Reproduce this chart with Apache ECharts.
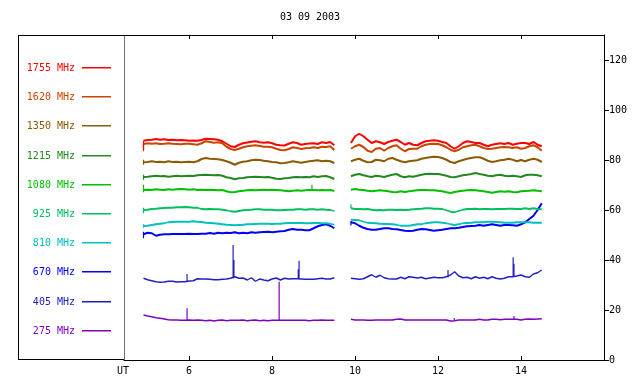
<!DOCTYPE html>
<html><head><meta charset="utf-8">
<script src="https://cdn.jsdelivr.net/npm/echarts@6/dist/echarts.min.js"></script>
<style>html,body{margin:0;padding:0;background:#fff}#c{width:640px;height:384px}</style>
</head><body><div id="c"></div>
<script>
const title = '03 09 2003';
const xTicks = [6, 8, 10, 12, 14];
const yTicks = [0, 20, 40, 60, 80, 100, 120];
const T1 = [4.9,5.0,5.1,5.2,5.3,5.4,5.5,5.6,5.7,5.8,5.9,6.0,6.1,6.2,6.3,6.4,6.5,6.6,6.7,6.8,6.9,7.0,7.1,7.2,7.3,7.4,7.5,7.6,7.7,7.8,7.9,8.0,8.1,8.2,8.3,8.4,8.5,8.6,8.7,8.8,8.9,9.0,9.1,9.2,9.3,9.4,9.5];
const T2 = [9.9,10.0,10.1,10.2,10.3,10.4,10.5,10.6,10.7,10.8,10.9,11.0,11.1,11.2,11.3,11.4,11.5,11.6,11.7,11.8,11.9,12.0,12.1,12.2,12.3,12.4,12.5,12.6,12.7,12.8,12.9,13.0,13.1,13.2,13.3,13.4,13.5,13.6,13.7,13.8,13.9,14.0,14.1,14.2,14.3,14.4,14.5];
const gapTime = 9.7;

const labels = ['1755 MHz','1620 MHz','1350 MHz','1215 MHz','1080 MHz','925 MHz','810 MHz','670 MHz','405 MHz','275 MHz'];
const colors = ['#ff0000','#c84600','#8c5a00','#228822','#00c000','#00c060','#00c0c0','#0000ff','#2020c0','#8000c0'];

const f1755a = [87.7,88.0,88.1,88.4,88.1,88.3,88.0,88.1,87.9,88.0,87.9,87.7,87.8,87.7,88.0,88.5,88.4,88.3,88.1,87.5,86.5,85.5,85.2,86.1,86.7,87.0,87.3,87.5,87.1,86.9,87.1,86.7,86.1,85.9,85.8,86.5,87.1,86.8,86.1,86.4,86.6,86.7,86.4,87.1,86.8,87.2,85.9];
const f1755b = [86.8,89.5,90.5,89.5,88.1,86.8,87.5,87.1,86.4,87.2,87.7,88.1,87.2,86.1,86.8,86.1,85.9,86.8,87.5,87.7,87.9,87.7,87.2,86.8,85.5,84.5,85.5,86.8,87.5,87.2,86.8,86.8,86.1,85.5,86.1,86.4,86.7,86.4,86.8,86.1,86.5,86.8,86.8,86.4,87.2,86.1,85.5];
const f1620a = [86.4,86.7,86.5,86.7,86.4,86.5,86.7,86.5,86.4,86.3,86.5,86.5,86.3,86.1,86.7,87.5,87.2,86.9,87.1,86.7,85.3,84.4,84.0,84.5,85.1,85.5,85.7,85.9,85.6,85.3,85.3,85.1,84.5,84.0,83.9,84.4,85.1,84.8,84.4,84.7,84.8,85.1,84.8,85.3,85.2,85.5,84.0];
const f1620b = [84.5,85.5,86.1,85.2,83.7,83.2,84.5,84.8,83.7,84.8,85.5,85.9,84.5,83.5,84.4,84.5,84.5,85.5,86.1,86.4,86.5,86.4,85.9,85.1,84.1,83.5,84.1,85.1,85.5,85.9,86.1,85.5,84.8,84.4,84.5,84.8,85.1,85.2,85.1,84.8,85.1,84.5,84.8,85.5,85.9,85.1,83.7];
const f1350a = [79.1,79.2,79.5,79.2,79.3,79.1,79.5,79.2,79.3,79.1,79.2,79.3,79.1,79.5,80.4,80.8,80.5,80.4,80.3,80.0,79.5,78.9,78.1,78.9,79.3,79.5,79.9,80.1,80.0,79.7,79.5,79.2,79.1,78.7,78.8,79.1,79.5,79.2,78.9,79.2,79.5,79.7,79.9,79.5,79.7,79.5,78.8];
const f1350b = [79.5,80.1,80.5,79.7,79.1,79.2,80.1,79.9,79.5,80.5,80.8,80.1,79.5,79.1,79.5,79.7,79.9,80.5,80.8,81.1,81.3,81.2,80.8,80.1,79.2,78.8,79.5,80.0,80.5,80.8,81.1,81.1,80.5,79.7,79.2,79.5,79.9,80.1,80.5,80.1,79.5,80.0,79.5,80.1,80.5,80.1,79.2];
const f1215a = [73.2,73.3,73.5,73.7,73.5,73.6,73.3,73.5,73.7,73.5,73.6,73.7,73.6,73.9,74.0,74.1,74.0,73.9,74.0,73.7,73.1,72.8,72.3,72.7,72.8,73.1,73.2,73.3,73.2,73.1,73.2,72.9,72.5,72.4,72.7,72.8,73.1,73.2,73.1,73.2,73.1,73.5,73.2,73.5,73.6,73.1,72.4];
const f1215b = [73.5,74.1,74.4,73.9,73.5,73.2,73.7,73.5,73.2,73.7,74.1,74.4,73.5,73.1,73.5,73.3,73.7,74.1,74.4,74.5,74.4,74.4,74.1,73.7,73.2,73.1,73.5,73.9,74.1,74.4,74.8,74.4,74.1,73.7,73.5,73.9,74.1,73.7,73.5,73.7,73.5,73.2,73.9,74.1,74.1,73.9,73.5];
const f1080a = [68.0,68.1,68.0,68.3,68.1,68.0,68.3,68.1,68.3,68.4,68.3,68.1,68.3,68.0,68.1,68.0,68.1,68.0,67.9,68.0,67.5,67.1,67.2,67.5,67.7,67.9,68.0,67.9,68.0,68.1,68.0,68.1,68.0,67.9,67.7,67.5,67.7,67.9,67.7,67.9,68.0,68.0,67.9,68.0,67.9,68.0,67.6];
const f1080b = [68.1,68.4,68.1,68.0,67.7,67.5,67.7,67.9,67.7,67.5,67.2,67.1,67.5,67.2,67.5,67.7,67.9,68.0,68.0,67.9,67.9,67.7,67.5,67.1,66.8,67.2,67.5,67.7,67.9,68.0,67.9,67.7,67.5,67.2,66.9,67.2,67.5,67.3,67.5,67.2,67.1,67.5,67.6,67.7,67.9,67.7,67.5];
const f925a = [60.0,60.1,60.4,60.5,60.7,60.8,60.9,60.9,61.1,61.1,61.2,61.1,60.9,60.9,60.4,60.3,60.4,60.3,60.3,60.1,59.9,59.5,59.3,59.6,59.9,60.0,60.1,60.3,60.3,60.1,60.1,60.1,59.9,59.9,60.0,60.1,60.1,60.3,60.3,60.1,60.3,60.3,60.1,60.3,60.1,60.0,59.6];
const f925b = [60.7,60.4,60.4,60.3,60.4,60.1,59.9,60.0,59.9,60.1,60.1,60.0,60.1,60.0,60.1,60.3,60.4,60.5,60.7,60.7,60.5,60.5,60.4,59.9,59.3,59.1,59.6,60.1,60.4,60.4,60.5,60.3,60.4,60.4,60.3,60.4,60.4,60.4,60.5,60.5,60.4,60.4,60.7,60.4,60.7,60.4,60.3];
const f810a = [53.6,53.7,54.0,54.3,54.5,54.7,55.1,55.2,55.3,55.3,55.3,55.3,55.5,55.3,55.2,54.9,54.8,54.7,54.5,54.3,54.1,54.0,53.9,54.0,54.1,54.3,54.3,54.4,54.5,54.5,54.5,54.4,54.5,54.5,54.7,54.8,54.8,54.8,54.8,54.7,54.7,54.8,54.8,54.7,54.7,54.5,54.1];
const f810b = [56.1,56.0,55.9,55.3,54.9,54.8,54.7,54.5,54.4,54.4,54.3,54.1,53.7,53.7,53.7,54.0,54.3,54.3,54.7,54.9,55.1,55.1,54.9,54.7,54.3,54.0,54.3,54.7,54.8,54.9,55.1,55.1,55.1,55.3,55.3,55.2,55.1,54.9,54.9,54.9,55.1,55.1,55.1,55.1,54.9,54.9,54.9];
const f670a = [50.3,50.9,50.7,49.7,50.1,50.3,50.3,50.4,50.4,50.4,50.4,50.5,50.4,50.4,50.5,50.5,50.8,50.5,50.9,50.7,50.9,50.8,51.1,50.7,50.9,50.7,51.1,50.9,51.1,51.2,51.3,51.1,51.3,51.5,51.6,52.1,52.4,52.1,52.1,51.9,51.9,52.7,53.5,54.0,54.3,53.7,52.7];
const f670b = [55.1,54.7,53.7,52.9,52.4,52.1,52.1,52.4,52.7,52.7,52.4,52.3,52.0,51.7,51.6,51.7,52.1,52.4,52.3,52.0,51.7,51.9,52.1,52.4,52.7,52.7,52.9,53.2,53.5,53.6,53.7,54.0,53.7,54.0,54.3,54.0,53.7,54.0,54.0,53.9,53.7,54.3,55.1,56.4,57.7,60.0,62.7];
const f405a = [32.7,32.1,31.7,31.3,31.1,31.2,31.5,31.5,31.2,31.3,31.3,31.6,31.7,32.5,32.4,32.4,32.3,32.1,32.1,32.3,32.4,32.7,33.3,32.7,32.8,32.0,32.9,31.5,32.4,32.0,31.7,32.4,32.8,32.0,32.7,32.4,32.5,32.5,32.4,32.3,32.3,32.3,32.5,32.7,32.4,32.4,32.9];
const f405b = [32.7,32.5,32.3,32.5,33.3,34.1,33.1,33.9,32.9,32.5,32.4,32.4,33.1,32.5,33.3,33.1,32.8,33.1,32.5,32.8,33.1,32.9,32.9,33.3,34.0,35.3,33.6,32.9,33.1,32.5,33.3,32.7,33.1,32.5,33.3,32.7,32.4,32.7,33.3,33.3,33.6,34.0,33.3,33.1,34.4,34.9,36.0];
const f275a = [18.0,17.6,17.3,16.9,16.7,16.4,16.1,16.0,16.0,15.9,15.9,16.0,15.9,16.0,15.9,15.7,15.9,15.6,15.9,16.0,15.7,15.9,15.9,15.9,16.0,15.7,15.9,16.0,15.7,15.9,15.7,15.9,15.9,15.9,15.9,15.9,15.9,15.9,15.9,15.9,15.7,15.9,15.9,16.0,15.9,15.9,15.9];
const f275b = [16.3,16.0,16.0,16.0,15.9,15.9,16.0,16.0,16.0,16.0,16.0,16.3,16.4,16.0,16.0,16.0,16.0,16.0,16.0,16.0,16.0,16.0,16.0,16.0,15.6,15.7,16.0,16.0,16.0,16.0,16.0,16.3,16.0,16.0,16.3,16.3,16.1,16.3,16.3,16.3,16.3,16.0,16.3,16.4,16.3,16.4,16.5];

// short vertical bursts: [time, low, high]
const k1755 = [[4.9, 84.0, 87.7]];
const k1620 = [[4.9, 83.5, 86.4]];
const k1350 = [[4.9, 78.1, 80.1]];
const k1215 = [[4.9, 72.1, 74.1]];
const k1080 = [[4.9, 67.1, 70.1], [8.96, 68.0, 70.1]];
const k925 = [[4.9, 58.7, 60.9], [9.9, 60.7, 62.3]];
const k810 = [[4.9, 52.9, 54.3]];
const k670 = [[4.9, 48.7, 51.3], [9.9, 53.8, 55.6]];
const k405 = [[5.95, 31.4, 34.4], [7.06, 32.7, 46.0], [7.08, 32.7, 40.0], [8.63, 32.4, 36.3], [8.65, 32.4, 39.7], [12.24, 33.1, 36.0], [13.81, 33.3, 41.1], [13.83, 33.3, 38.5]];
const k275 = [[5.95, 15.9, 20.7], [8.17, 15.9, 31.3], [12.39, 15.7, 16.8], [13.83, 16.3, 17.6]];

const segA = [f1755a,f1620a,f1350a,f1215a,f1080a,f925a,f810a,f670a,f405a,f275a];
const segB = [f1755b,f1620b,f1350b,f1215b,f1080b,f925b,f810b,f670b,f405b,f275b];
const kicks = [k1755,k1620,k1350,k1215,k1080,k925,k810,k670,k405,k275];
const widths = [2,2,2,2,2,1.8,1.8,2,1.4,1.4];

const FONT = '10px "DejaVu Sans Mono", monospace';

const series = [];
for (let i = labels.length - 1; i >= 0; i--) {
  const data = T1.map((t, j) => [t, segA[i][j]])
    .concat([[gapTime, null]])
    .concat(T2.map((t, j) => [t, segB[i][j]]));
  series.push({
    type: 'line', data, showSymbol: false, connectNulls: false,
    lineStyle: { color: colors[i], width: widths[i] }, itemStyle: { color: colors[i] },
    silent: true, z: 2
  });
  const kd = [];
  kicks[i].forEach(k => { kd.push([k[0], k[1]], [k[0], k[2]], [k[0], null]); });
  series.push({
    type: 'line', data: kd, showSymbol: false, connectNulls: false,
    lineStyle: { color: colors[i], width: 1.2 }, silent: true, z: 2
  });
}

const G_LEFT = 124, G_RIGHT_X = 604, G_TOP = 35, G_BOTTOM_Y = 360, BOX_LEFT = 18;
const graphic = [];
graphic.push({ type: 'text', style: { text: title, x: 310, y: 17, fill: '#000', font: FONT, align: 'center', verticalAlign: 'middle', textAlign: 'center', textVerticalAlign: 'middle' } });
graphic.push({ type: 'rect', shape: { x: BOX_LEFT, y: G_TOP, width: 1, height: G_BOTTOM_Y - G_TOP }, style: { fill: '#000' } });
graphic.push({ type: 'rect', shape: { x: BOX_LEFT, y: G_TOP, width: G_LEFT - BOX_LEFT, height: 1 }, style: { fill: '#000' } });
graphic.push({ type: 'rect', shape: { x: BOX_LEFT, y: G_BOTTOM_Y - 1, width: G_LEFT - BOX_LEFT, height: 1 }, style: { fill: '#000' } });
graphic.push({ type: 'rect', shape: { x: G_LEFT, y: G_TOP, width: 1, height: G_BOTTOM_Y - G_TOP }, style: { fill: '#707070' } });
graphic.push({ type: 'text', style: { text: 'UT', x: 123, y: 371, fill: '#000', font: FONT, align: 'center', verticalAlign: 'middle', textAlign: 'center', textVerticalAlign: 'middle' } });
labels.forEach((lb, i) => {
  const y = Math.round(68 + i * 29.2);
  graphic.push({ type: 'text', style: { text: lb, x: 75, y: y, fill: colors[i], font: FONT, align: 'right', verticalAlign: 'middle', textAlign: 'right', textVerticalAlign: 'middle' } });
  graphic.push({ type: 'rect', shape: { x: 82, y: y - 1, width: 29, height: 1.5 }, style: { fill: colors[i] } });
});

const chart = echarts.init(document.getElementById('c'), null, { renderer: 'canvas' });
chart.setOption({
  animation: false,
  backgroundColor: '#fff',
  grid: { left: G_LEFT, right: 640 - G_RIGHT_X, top: G_TOP, bottom: 384 - G_BOTTOM_Y, containLabel: false },
  xAxis: [
    { type: 'value', position: 'bottom', min: 4.43, max: 16,
      axisLine: { show: true, onZero: false, lineStyle: { color: '#000', width: 1 } },
      axisTick: { show: true, inside: true, length: 4, customValues: xTicks, lineStyle: { color: '#000' } },
      axisLabel: { show: true, customValues: xTicks, margin: 6, color: '#000', fontFamily: '"DejaVu Sans Mono", monospace', fontSize: 10 },
      splitLine: { show: false } },
    { type: 'value', position: 'top', min: 4.43, max: 16,
      axisLine: { show: true, onZero: false, lineStyle: { color: '#000', width: 1 } },
      axisTick: { show: true, inside: true, length: 4, customValues: xTicks, lineStyle: { color: '#000' } },
      axisLabel: { show: false },
      splitLine: { show: false } }
  ],
  yAxis: [
    { type: 'value', position: 'right', min: 0, max: 130,
      axisLine: { show: true, onZero: false, lineStyle: { color: '#000', width: 1 } },
      axisTick: { show: true, inside: false, length: 5, customValues: yTicks, lineStyle: { color: '#000' } },
      axisLabel: { show: true, customValues: yTicks, margin: 5, color: '#000', fontFamily: '"DejaVu Sans Mono", monospace', fontSize: 10 },
      splitLine: { show: false } }
  ],
  graphic: graphic,
  series: series
});
</script>
</body></html>
